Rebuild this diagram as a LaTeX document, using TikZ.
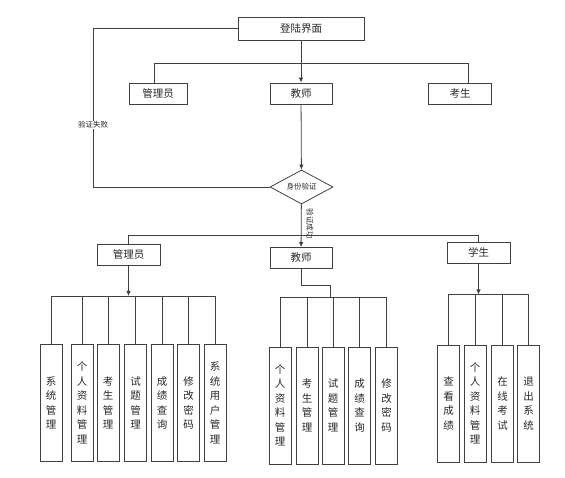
\documentclass[tikz,border=0pt]{standalone}
\usepackage{fontspec}
\setmainfont{Noto Sans CJK SC}
\usepackage{tikz}
\usetikzlibrary{shapes.geometric, arrows.meta, positioning}
\definecolor{linegray}{RGB}{64, 64, 64}
\definecolor{textgray}{RGB}{40, 40, 40}
\tikzset{
  box/.style={draw=linegray, line width=0.8pt, minimum width=62pt, minimum height=21pt,
    inner sep=1pt, text=textgray, font=\fontsize{10.5}{12}\selectfont},
  vbox/.style={draw=linegray, line width=0.8pt, minimum width=22pt, minimum height=117pt,
    inner sep=0pt, align=center, text=textgray, font=\fontsize{10.5}{14.5}\selectfont},
  check/.style={diamond, aspect=2, draw=linegray, line width=0.8pt, minimum width=63pt,
    minimum height=34pt, inner sep=0pt, text=textgray, font=\fontsize{7.5}{9}\selectfont},
  tag/.style={fill=white, inner sep=1pt, text=textgray, font=\fontsize{7.5}{9}\selectfont},
  link/.style={draw=linegray, line width=0.8pt},
  arr/.style={link, -{Latex[length=5pt, width=4.5pt]}}
}

\begin{document}
\begin{tikzpicture}[x=1pt, y=-1pt]
    \useasboundingbox (0, 0) rectangle (565, 478);

    % Login and roles
    \node[box, minimum width=126pt, minimum height=23pt] (login) at (301, 28.5) {登陆界面};
    \node[box, minimum width=58pt] (admin) at (158, 93.5) {管理员};
    \node[box] (teacher) at (301, 93.5) {教师};
    \node[box, minimum width=63pt] (examinee) at (460, 93.5) {考生};

    \coordinate (hl) at (154, 63);
    \coordinate (hr) at (468, 63);
    \draw[link] (admin.north -| hl) |- (hr) -- (examinee.north -| hr);
    \draw[arr] (login) -- (teacher);

    % Identity check
    \node[check] (idcheck) at (301.5, 187) {身份验证};
    \draw[arr] (teacher) -- (idcheck);

    \coordinate (fcorner) at (93, 28.5);
    \draw[link] (login.west) -- (fcorner) |- (idcheck.west);
    \node[tag] (failtxt) at (93, 125) {验证失败};

    % Second level
    \node[box, minimum width=63pt] (admin2) at (128.5, 254.8) {管理员};
    \node[box] (teacher2) at (301, 258) {教师};
    \node[box, minimum width=63pt] (student) at (478.5, 252.5) {学生};

    \coordinate (bl) at (128.5, 235.5);
    \coordinate (br) at (478.5, 235.5);
    \draw[link] (admin2.north -| bl) |- (br) -- (student.north -| br);
    \draw[arr] (idcheck) -- (teacher2);
    \node[tag, fill=none, rotate=-90] (oktxt) at (310, 224) {验证成功};

    % Admin functions
    \foreach \x/\t [count=\i] in {51/{系\\统\\管\\理}, 82/{个\\人\\资\\料\\管\\理},
        108/{考\\生\\管\\理}, 135.5/{试\\题\\管\\理}, 162/{成\\绩\\查\\询},
        188.5/{修\\改\\密\\码}, 215/{系\\统\\用\\户\\管\\理}}
        \node[vbox] (ac\i) at (\x, 403) {\t};
    \coordinate (abar) at (128.5, 296);
    \draw[arr] (admin2) -- (abar);
    \foreach \i in {1,...,7}
        \draw[link] (abar) -| (ac\i.north);

    % Teacher functions
    \foreach \x/\t [count=\i] in {280/{个\\人\\资\\料\\管\\理}, 307/{考\\生\\管\\理},
        333/{试\\题\\管\\理}, 359.5/{成\\绩\\查\\询}, 386.5/{修\\改\\密\\码}}
        \node[vbox] (tc\i) at (\x, 405.5) {\t};
    \coordinate (tknee) at (330, 285);
    \coordinate (tbar) at (330, 297);
    \draw[link] (teacher2.south) |- (tknee) -- (tbar);
    \foreach \i in {1,...,5}
        \draw[link] (tbar) -| (tc\i.north);

    % Student functions
    \foreach \x/\t [count=\i] in {448.5/{查\\看\\成\\绩}, 475/{个\\人\\资\\料\\管\\理},
        502.5/{在\\线\\考\\试}, 528.5/{退\\出\\系\\统}}
        \node[vbox] (sc\i) at (\x, 403.5) {\t};
    \coordinate (sbar) at (478.5, 294.5);
    \draw[arr] (student) -- (sbar);
    \foreach \i in {1,...,4}
        \draw[link] (sbar) -| (sc\i.north);
\end{tikzpicture}
\end{document}
